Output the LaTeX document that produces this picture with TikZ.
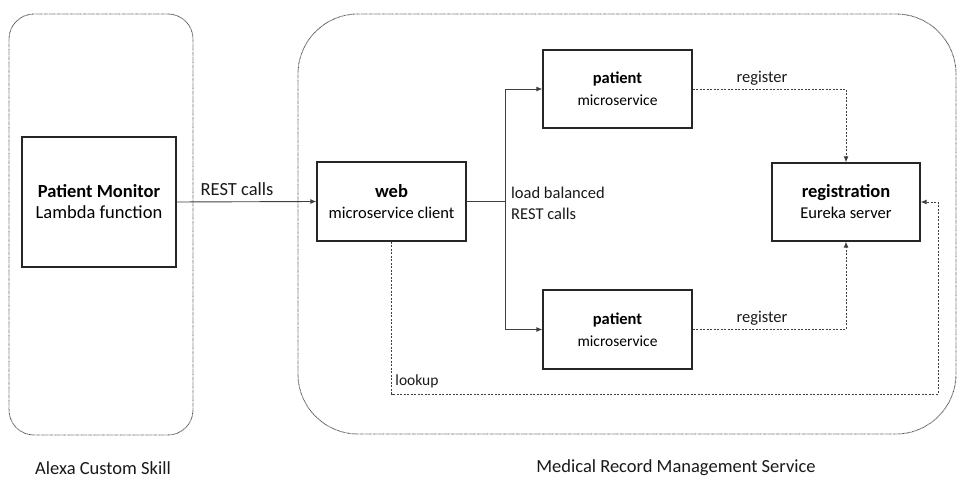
\documentclass[tikz,border=0pt]{standalone}
\usepackage{fontspec}
\setmainfont{Carlito}
\usetikzlibrary{arrows.meta}
\tikzset{
  container/.style={draw=black!70, line width=0.9pt, dash pattern=on 0.7pt off 0.6pt, inner sep=0pt},
  box/.style={draw=black!85, line width=1.2pt, inner sep=0pt, align=center, fill=white},
  conn/.style={draw=black!75, line width=0.9pt, -{Latex[length=6pt,width=5pt]}},
  dconn/.style={draw=black!75, line width=0.9pt, dash pattern=on 2pt off 1.5pt, -{Latex[length=6pt,width=5pt]}},
  lbl/.style={inner sep=0pt, text=black!90},
}
\newcommand{\bigf}{\fontsize{18.5}{21}\selectfont}
\newcommand{\midf}{\fontsize{16.5}{21}\selectfont}
\newcommand{\smf}{\fontsize{15.5}{22}\selectfont}
\begin{document}
\begin{tikzpicture}[x=1pt,y=-1pt]
\useasboundingbox (0,0) rectangle (967,486);
% containers
\node[container, rounded corners=25pt, minimum width=184pt, minimum height=421pt] (alexa) at (101,224.5) {};
\node[container, rounded corners=60pt, minimum width=658pt, minimum height=420pt] (mrms) at (627,224) {};
\node[lbl, font=\bigf] (alexalbl) at (103,468) {Alexa Custom Skill};
\node[lbl, font=\bigf] (mrmslbl) at (676,468) {Medical Record Management Service};
% boxes
\node[box, font=\bigf, minimum width=154pt, minimum height=130pt] (pm) at (99,202)
  {\textbf{Patient Monitor}\\ Lambda function};
\node[box, font=\midf, minimum width=149pt, minimum height=79pt] (web) at (391.5,201.5)
  {{\bigf\bfseries web}\\ microservice client};
\node[box, font=\smf, minimum width=149pt, minimum height=78pt] (p1) at (617.5,89)
  {{\midf\bfseries patient}\\ microservice};
\node[box, font=\smf, minimum width=149pt, minimum height=79pt] (p2) at (617.5,329.5)
  {{\midf\bfseries patient}\\ microservice};
\node[box, font=\midf, minimum width=148pt, minimum height=78pt] (reg) at (846,202)
  {{\bigf\bfseries registration}\\ Eureka server};
% connectors
\draw[conn] (pm.east) -- (web.west);
\node[lbl, font=\bigf] (restlbl) at (237,189) {REST calls};
\coordinate (split) at (505,201.5);
\draw[draw=black!75, line width=0.9pt] (web.east) -- (split);
\draw[conn] (split) |- (p1.west);
\draw[conn] (split) |- (p2.west);
\node[lbl, font=\midf, align=left, anchor=west] (lblbl) at (511,203) {load balanced\\REST calls};
\draw[dconn] (p1.east) -| (reg.north);
\draw[dconn] (p2.east) -| (reg.south);
\node[lbl, font=\midf] (reg1lbl) at (762,78) {register};
\node[lbl, font=\midf] (reg2lbl) at (762,318) {register};
\coordinate (lkc) at (938,394);
\draw[dconn] (web.south) |- (lkc) |- (reg.east);
\node[lbl, font=\smf] (lklbl) at (417,381) {lookup};
\end{tikzpicture}
\end{document}
